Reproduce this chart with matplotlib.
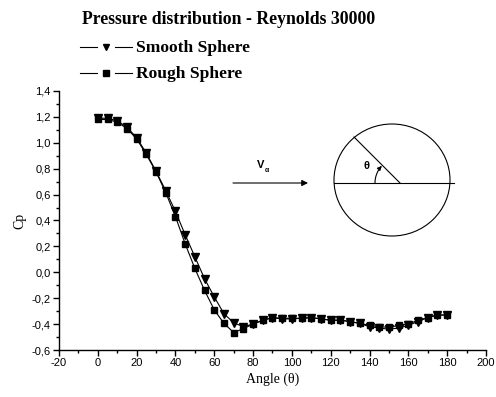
import numpy as np
import matplotlib
matplotlib.use("Agg")
import matplotlib.pyplot as plt
from matplotlib.ticker import MultipleLocator, FuncFormatter
from matplotlib.patches import Ellipse, FancyArrowPatch
from matplotlib.path import Path

# data
angle = np.arange(0, 181, 5)
cp_smooth = [1.19, 1.19, 1.17, 1.12, 1.04, 0.92, 0.78, 0.63, 0.47, 0.29,
             0.12, -0.05, -0.19, -0.32, -0.39, -0.42, -0.40, -0.37, -0.35, -0.36,
             -0.36, -0.355, -0.35, -0.36, -0.37, -0.37, -0.38, -0.395, -0.42, -0.43,
             -0.44, -0.43, -0.41, -0.38, -0.35, -0.33, -0.33]
cp_rough = [1.18, 1.18, 1.16, 1.11, 1.03, 0.91, 0.775, 0.615, 0.43, 0.22,
            0.03, -0.14, -0.29, -0.395, -0.465, -0.435, -0.40, -0.37, -0.35, -0.355,
            -0.355, -0.355, -0.35, -0.36, -0.37, -0.37, -0.38, -0.395, -0.41, -0.42,
            -0.425, -0.41, -0.40, -0.37, -0.35, -0.33, -0.33]

title = "Pressure distribution - Reynolds 30000"
labels = ["Smooth Sphere", "Rough Sphere"]
markers = ["v", "s"]

W, H = 496, 397
fig = plt.figure(figsize=(W / 100, H / 100), dpi=100)
ax = fig.add_axes([59 / W, 1 - 350 / H, (486 - 59) / W, (350 - 91) / H])

ax.plot(angle, cp_smooth, color="black", lw=0.8, marker="v", ms=5.5,
        mfc="black", mec="black")
ax.plot(angle, cp_rough, color="black", lw=0.8, marker="s", ms=5,
        mfc="black", mec="black")

ax.set_xlim(-20, 200)
ax.set_ylim(-0.6, 1.4)
ax.xaxis.set_major_locator(MultipleLocator(20))
ax.xaxis.set_minor_locator(MultipleLocator(10))
ax.yaxis.set_major_locator(MultipleLocator(0.2))
ax.yaxis.set_minor_locator(MultipleLocator(0.1))
ax.yaxis.set_major_formatter(FuncFormatter(lambda v, p: f"{v:.1f}".replace(".", ",").replace("-0,0", "0,0")))
ax.xaxis.set_major_formatter(FuncFormatter(lambda v, p: f"{v:.0f}"))
for s in ["top", "right"]:
    ax.spines[s].set_visible(False)
for s in ["left", "bottom"]:
    ax.spines[s].set_linewidth(1.0)
ax.tick_params(which="major", length=4, width=1, labelsize=8, pad=2)
ax.tick_params(which="minor", length=2, width=1)
for t in ax.get_xticklabels() + ax.get_yticklabels():
    t.set_family("Liberation Sans")

ax.set_xlabel("Angle (\u03b8)", family="Liberation Serif", fontsize=10, labelpad=3)
ax.set_ylabel("Cp", family="Liberation Serif", fontsize=10, labelpad=4)

# overlay in pixel coordinates for the title, legend and sketch
ov = fig.add_axes([0, 0, 1, 1])
ov.set_xlim(0, W)
ov.set_ylim(H, 0)
ov.axis("off")

ov.text(82, 20, title, family="Liberation Serif", weight="bold",
        fontsize=12.8, ha="left", va="center")
for i, (lab, m) in enumerate(zip(labels, markers)):
    y = 47 + 26 * i
    ov.plot([80, 97], [y, y], color="black", lw=0.8)
    ov.plot([115, 132], [y, y], color="black", lw=0.8)
    ov.plot([106], [y], marker=m, ms=4, color="black")
    ov.text(136, y + 1, lab, family="Liberation Serif", weight="bold",
            fontsize=12.6, ha="left", va="center")

ov.add_patch(FancyArrowPatch((233, 183), (308, 183), arrowstyle="-|>",
                             mutation_scale=9, color="black", lw=0.8,
                             shrinkA=0, shrinkB=0))
ov.text(261, 165, "V", family="Liberation Sans", weight="bold", fontsize=8,
        ha="center", va="center")
ov.text(267, 171, "\u03b1", family="Liberation Sans", weight="bold", fontsize=5,
        ha="center", va="center")
ov.add_patch(Ellipse((392, 180), 116, 112, fill=False, color="black", lw=0.8))
ov.plot([334, 454], [183, 183], color="black", lw=0.8)
ov.plot([400, 354], [183, 137], color="black", lw=0.8)
t = np.radians(np.linspace(180, 137, 20))
arc = Path(np.column_stack([400 + 25 * np.cos(t), 183 - 25 * np.sin(t)]))
ov.add_patch(FancyArrowPatch(path=arc, arrowstyle="-|>", mutation_scale=6,
                             color="black", lw=0.8))
ov.text(367, 166, "\u03b8", family="Liberation Sans", weight="bold", fontsize=8,
        ha="center", va="center")

fig.savefig("out.png", dpi=100)
